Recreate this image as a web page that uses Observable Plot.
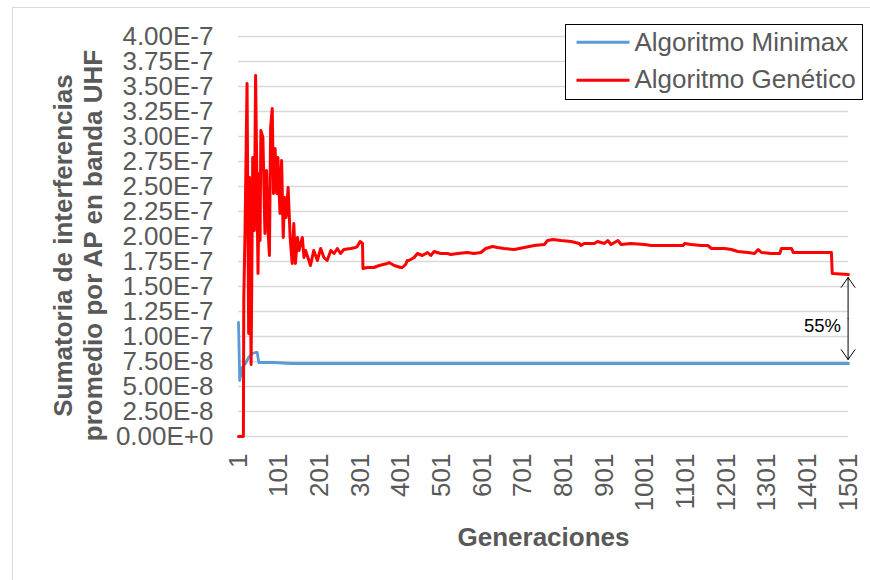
<!DOCTYPE html>
<html><head><meta charset="utf-8">
<script src="https://cdn.jsdelivr.net/npm/d3@7"></script>
<script src="https://cdn.jsdelivr.net/npm/@observablehq/plot@0.6"></script>
<style>
html,body{margin:0;padding:0;background:#fff;}
#wrap{position:relative;width:870px;height:580px;overflow:hidden;font-family:"Liberation Sans",Arial,sans-serif;}
#chart{position:absolute;left:0;top:0;}
#border{position:absolute;left:12px;top:7px;width:900px;height:600px;border:1px solid #d9d9d9;box-sizing:border-box;pointer-events:none;}
#legend{position:absolute;left:565px;top:24px;width:298px;height:76px;border:1.5px solid #000;background:#fff;box-sizing:border-box;}
</style></head><body>
<div id="wrap"><div id="chart"></div><div id="border"></div><div id="legend"></div></div>
<script>
// ---- data ----
const seriesNames = ["Algoritmo Minimax", "Algoritmo Genético"];
const seriesColors = ["#5b9bd5", "#ff0000"];

const minimaxGen = [1, 4, 10, 18, 26, 35, 43, 47, 51, 59, 88, 129, 1501];
const minimaxVal = [1.14e-7, 0.56e-7, 0.69e-7, 0.73e-7, 0.79e-7, 0.83e-7, 0.84e-7, 0.84e-7, 0.74e-7, 0.74e-7, 0.74e-7, 0.73e-7, 0.73e-7];

const geneticGen = [1, 13, 14, 17, 22, 26, 28, 32, 36, 40, 43, 49, 52, 54, 56, 61, 66, 70, 74, 77, 80, 84, 87, 91, 95, 98, 103, 107, 111, 114, 118, 123, 128, 133, 137, 141, 146, 150, 154, 158, 162, 166, 174, 178, 186, 195, 203, 211, 219, 228, 236, 244, 252, 260, 277, 289, 293, 300, 306, 307, 318, 334, 347, 367, 371, 384, 400, 404, 412, 416, 420, 433, 441, 453, 466, 474, 482, 498, 515, 523, 540, 564, 580, 597, 609, 626, 638, 654, 679, 704, 728, 753, 761, 774, 794, 819, 839, 843, 851, 876, 884, 901, 909, 917, 934, 942, 966, 999, 1016, 1032, 1065, 1094, 1098, 1114, 1139, 1155, 1164, 1196, 1213, 1229, 1254, 1270, 1279, 1287, 1311, 1332, 1336, 1361, 1365, 1393, 1459, 1461, 1501];
const geneticVal = [0, 0, 1.38e-7, 2.03e-7, 3.53e-7, 1.03e-7, 2.59e-7, 0.72e-7, 2.79e-7, 2.06e-7, 3.61e-7, 1.63e-7, 2.63e-7, 1.96e-7, 3.06e-7, 2.99e-7, 2.03e-7, 2.66e-7, 2.03e-7, 1.81e-7, 3.09e-7, 3.28e-7, 2.43e-7, 2.88e-7, 2.43e-7, 2.79e-7, 2.23e-7, 2.76e-7, 1.99e-7, 2.39e-7, 2.19e-7, 2.49e-7, 1.99e-7, 1.73e-7, 2.13e-7, 1.73e-7, 1.99e-7, 1.86e-7, 1.93e-7, 1.99e-7, 1.79e-7, 1.86e-7, 1.76e-7, 1.71e-7, 1.86e-7, 1.76e-7, 1.88e-7, 1.79e-7, 1.76e-7, 1.86e-7, 1.83e-7, 1.88e-7, 1.83e-7, 1.87e-7, 1.88e-7, 1.89e-7, 1.90e-7, 1.95e-7, 1.93e-7, 1.68e-7, 1.69e-7, 1.69e-7, 1.71e-7, 1.73e-7, 1.74e-7, 1.71e-7, 1.69e-7, 1.69e-7, 1.72e-7, 1.76e-7, 1.76e-7, 1.79e-7, 1.83e-7, 1.81e-7, 1.84e-7, 1.81e-7, 1.85e-7, 1.83e-7, 1.83e-7, 1.82e-7, 1.83e-7, 1.84e-7, 1.83e-7, 1.84e-7, 1.88e-7, 1.90e-7, 1.89e-7, 1.88e-7, 1.87e-7, 1.89e-7, 1.91e-7, 1.92e-7, 1.96e-7, 1.97e-7, 1.96e-7, 1.95e-7, 1.93e-7, 1.91e-7, 1.93e-7, 1.93e-7, 1.95e-7, 1.93e-7, 1.96e-7, 1.92e-7, 1.96e-7, 1.92e-7, 1.93e-7, 1.92e-7, 1.91e-7, 1.91e-7, 1.91e-7, 1.91e-7, 1.93e-7, 1.92e-7, 1.91e-7, 1.91e-7, 1.88e-7, 1.88e-7, 1.87e-7, 1.85e-7, 1.84e-7, 1.83e-7, 1.87e-7, 1.84e-7, 1.83e-7, 1.83e-7, 1.88e-7, 1.88e-7, 1.84e-7, 1.84e-7, 1.84e-7, 1.63e-7, 1.62e-7];

const yTicks = [0, 0.25e-7, 0.5e-7, 0.75e-7, 1.0e-7, 1.25e-7, 1.5e-7, 1.75e-7, 2.0e-7, 2.25e-7, 2.5e-7, 2.75e-7, 3.0e-7, 3.25e-7, 3.5e-7, 3.75e-7, 4.0e-7];
const yTickLabels = ["0.00E+0", "2.50E-8", "5.00E-8", "7.50E-8", "1.00E-7", "1.25E-7", "1.50E-7", "1.75E-7", "2.00E-7", "2.25E-7", "2.50E-7", "2.75E-7", "3.00E-7", "3.25E-7", "3.50E-7", "3.75E-7", "4.00E-7"];
const xTicks = [1, 101, 201, 301, 401, 501, 601, 701, 801, 901, 1001, 1101, 1201, 1301, 1401, 1501];
const xTickLabels = ["1", "101", "201", "301", "401", "501", "601", "701", "801", "901", "1001", "1101", "1201", "1301", "1401", "1501"];

const xTitle = "Generaciones";
const yTitleLines = ["Sumatoria de interferencias", "promedio por AP en banda UHF"];

const gapLabel = ["55%"];
const gapLabelX = [1437];
const gapLabelY = [1.10e-7];
const gapArrowX = [1500];
const gapArrowFrom = [1.18e-7];
const gapArrowTo = [1.59e-7, 0.77e-7];

// ---- tables ----
const minimax = minimaxGen.map((g, i) => ({gen: g, value: minimaxVal[i]}));
const genetic = geneticGen.map((g, i) => ({gen: g, value: geneticVal[i]}));
const arrows = gapArrowTo.map(t => ({x: gapArrowX[0], y1: gapArrowFrom[0], y2: t}));
const gapText = gapLabel.map((t, i) => ({x: gapLabelX[i], y: gapLabelY[i], t}));

const grey = "#595959";
const font = "'Liberation Sans', Arial, sans-serif";

const chart = Plot.plot({
  width: 870,
  height: 580,
  marginLeft: 238,
  marginRight: 22,
  marginTop: 36,
  marginBottom: 144,
  style: {fontFamily: font, background: "transparent"},
  x: {domain: [1, 1501]},
  y: {domain: [0, 4e-7]},
  marks: [
    Plot.ruleY(yTicks, {stroke: "#d9d9d9", strokeWidth: 1.3}),
    Plot.axisY({ticks: yTicks, tickFormat: d => yTickLabels[yTicks.indexOf(d)], tickSize: 0, tickPadding: 25, fontSize: 26, color: grey, label: null}),
    Plot.axisX({ticks: xTicks, tickFormat: d => xTickLabels[xTicks.indexOf(d)], tickSize: 0, tickPadding: 17, tickRotate: -90, fontSize: 26, color: grey, label: null}),
    Plot.text([xTitle], {frameAnchor: "bottom", text: d => d, dy: 101, fontSize: 26, fontWeight: "bold", fill: grey, lineAnchor: "middle"}),
    Plot.text([yTitleLines[0]], {frameAnchor: "left", text: d => d, rotate: -90, dx: -175, dy: 9, fontSize: 26, fontWeight: "bold", fill: grey, textAnchor: "middle", lineAnchor: "middle"}),
    Plot.text([yTitleLines[1]], {frameAnchor: "left", text: d => d, rotate: -90, dx: -145, dy: 9, fontSize: 26, fontWeight: "bold", fill: grey, textAnchor: "middle", lineAnchor: "middle"}),
    Plot.line(minimax, {x: "gen", y: "value", stroke: seriesColors[0], strokeWidth: 2.8, strokeLinejoin: "round"}),
    Plot.line(genetic, {x: "gen", y: "value", stroke: seriesColors[1], strokeWidth: 3, strokeLinejoin: "round"}),
    Plot.arrow(arrows, {x: "x", y1: "y1", y2: "y2", stroke: "#000", strokeWidth: 1, headLength: 18, headAngle: 70}),
    Plot.text(gapText, {x: "x", y: "y", text: "t", fontSize: 18.5, fill: "#000"})
  ]
});
document.getElementById("chart").appendChild(chart);

// legend
const lg = d3.select("#legend").append("svg").attr("width", 295).attr("height", 73)
  .style("display", "block").style("font-family", font);
const rows = [{y: 17.2, base: 26.3}, {y: 55.2, base: 62.8}];
seriesNames.forEach((name, i) => {
  lg.append("line").attr("x1", 10.5).attr("x2", 63.5).attr("y1", rows[i].y).attr("y2", rows[i].y)
    .attr("stroke", seriesColors[i]).attr("stroke-width", 3);
  lg.append("text").attr("x", 68.5).attr("y", rows[i].base).attr("fill", grey)
    .attr("font-size", 26).text(name);
});
</script>
</body></html>
